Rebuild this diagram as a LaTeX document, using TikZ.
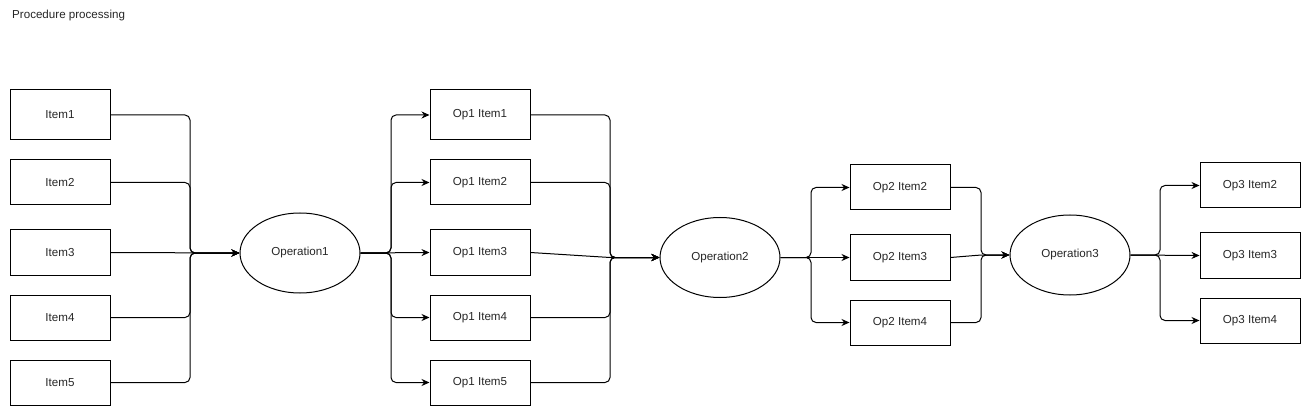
\documentclass[tikz,border=0pt]{standalone}
\usepackage{fontspec}
\setmainfont{Liberation Sans}
\usetikzlibrary{arrows.meta,shapes.geometric}
\begin{document}
\begin{tikzpicture}[x=1pt,y=-1pt,
  every node/.style={font=\fontsize{11.6}{14}\selectfont, text=black!85},
  itembox/.style={draw, line width=1pt, minimum width=100pt, minimum height=45pt, inner sep=0pt},
  tallbox/.style={itembox, minimum height=50pt},
  opell/.style={draw, line width=1pt, ellipse, minimum width=120pt, minimum height=80pt, inner sep=0pt},
  conn/.style={draw, line width=1pt, rounded corners=5pt},
  arr/.style={conn, -{Stealth[length=8pt,width=7pt]}}
]
\useasboundingbox (0,0) rectangle (1301,406);
\node[anchor=base west, inner sep=0pt] (title) at (12,18.5) {Procedure processing};

% inputs
\node[tallbox] (i1) at (60,115) {Item1};
\node[itembox] (i2) at (60,182.5) {Item2};
\node[itembox] (i3) at (60,252.5) {Item3};
\node[itembox] (i4) at (60,317.5) {Item4};
\node[itembox] (i5) at (60,382.5) {Item5};

\node[opell] (op1) at (300,253) {Operation1};

\node[tallbox] (a1) at (480,115) {Op1 Item1};
\node[itembox] (a2) at (480,182.5) {Op1 Item2};
\node[itembox] (a3) at (480,252.5) {Op1 Item3};
\node[itembox] (a4) at (480,317.5) {Op1 Item4};
\node[itembox] (a5) at (480,382.5) {Op1 Item5};

\node[opell] (op2) at (720,257.5) {Operation2};

\node[itembox] (b2) at (900,187.5) {Op2 Item2};
\node[itembox] (b3) at (900,257.5) {Op2 Item3};
\node[itembox] (b4) at (900,322.5) {Op2 Item4};

\node[opell] (op3) at (1070,255) {Operation3};

\node[itembox] (c2) at (1250,185.5) {Op3 Item2};
\node[itembox] (c3) at (1250,255.5) {Op3 Item3};
\node[itembox] (c4) at (1250,320.5) {Op3 Item4};

% junction coordinates
\coordinate (jx1) at (190,253);
\coordinate (jy1) at (391,253);
\coordinate (jx2) at (610,257.5);
\coordinate (jy2) at (811,257.5);
\coordinate (jx3) at (981,255);
\coordinate (jy3) at (1160,255);

% Items -> Operation1
\foreach \n in {i1,i2,i4,i5} {\draw[arr] (\n.east) -| (jx1) -- (op1.west);}
\draw[arr] (i3.east) -- (op1.west);

% Operation1 -> Op1 items
\foreach \n in {a1,a2,a4,a5} {\draw[arr] (op1.east) -- (jy1) |- (\n.west);}
\draw[arr] (op1.east) -- (a3.west);

% Op1 items -> Operation2
\foreach \n in {a1,a2,a4,a5} {\draw[arr] (\n.east) -| (jx2) -- (op2.west);}
\draw[arr] (a3.east) -- (jx2) -- (op2.west);

% Operation2 -> Op2 items
\foreach \n in {b2,b4} {\draw[arr] (op2.east) -- (jy2) |- (\n.west);}
\draw[arr] (op2.east) -- (b3.west);

% Op2 items -> Operation3
\foreach \n in {b2,b4} {\draw[arr] (\n.east) -| (jx3) -- (op3.west);}
\draw[arr] (b3.east) -- (jx3) -- (op3.west);

% Operation3 -> Op3 items
\foreach \n in {c2,c4} {\draw[arr] (op3.east) -- (jy3) |- (\n.west);}
\draw[arr] (op3.east) -- (c3.west);
\end{tikzpicture}
\end{document}
